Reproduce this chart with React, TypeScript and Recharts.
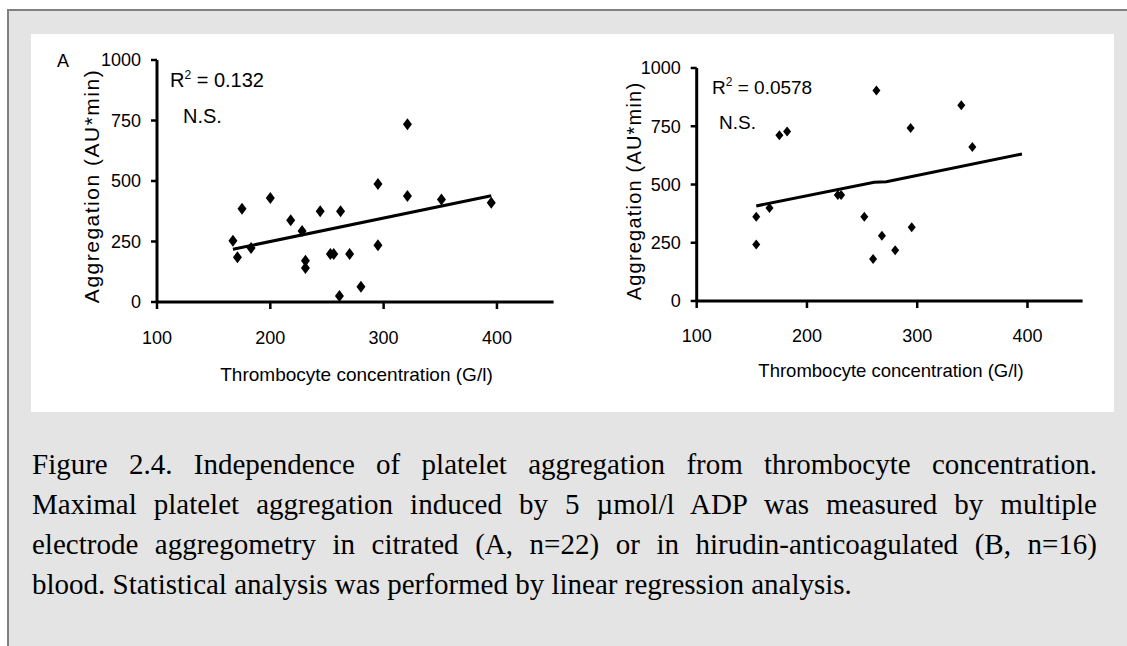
import React from "react";
import { ScatterChart, Scatter, XAxis, YAxis } from "recharts";

// ---------- data ----------
const xTicks = [100, 200, 300, 400];
const yTicks = [0, 250, 500, 750, 1000];

// Panel A (citrated, n=22)
const citratedPlatelets = [167, 171, 175, 183, 200, 218, 228, 231, 231, 244, 253, 256, 261, 262, 270, 280, 295, 295, 321, 321, 351, 395];
const citratedAggregation = [253, 185, 385, 223, 430, 338, 293, 170, 140, 375, 198, 198, 25, 375, 198, 63, 488, 235, 438, 735, 424, 410];
const citratedTrendX = [167, 395];
const citratedTrendY = [218, 439];

// Panel B (hirudin, n=16)
const hirudinPlatelets = [154, 154, 166, 175, 182, 228, 231, 252, 260, 263, 268, 280, 294, 295, 340, 350];
const hirudinAggregation = [362, 242, 399, 711, 727, 455, 455, 362, 180, 903, 280, 218, 742, 316, 840, 661];
const hirudinTrendX = [154, 261, 272, 395];
const hirudinTrendY = [408, 510, 512, 631];

const xLabel = "Thrombocyte concentration (G/l)";
const yLabel = "Aggregation (AU*min)";
const captionLines = [
  "Figure 2.4. Independence of platelet aggregation from thrombocyte concentration.",
  "Maximal platelet aggregation induced by 5 \u00b5mol/l ADP was measured by multiple",
  "electrode aggregometry in citrated (A, n=22) or in hirudin-anticoagulated (B, n=16)",
  "blood. Statistical analysis was performed by linear regression analysis.",
];

const toPoints = (xs: number[], ys: number[]) => xs.map((x, i) => ({ x, y: ys[i] }));

const SANS = '"Liberation Sans", Arial, sans-serif';
const SERIF = '"Liberation Serif", "Times New Roman", serif';

const diamond = (w: number, h: number) => (props: any) => {
  const { cx, cy } = props;
  if (cx == null || cy == null) return <g />;
  return (
    <path
      d={`M${cx},${cy - h / 2}L${cx + w / 2},${cy}L${cx},${cy + h / 2}L${cx - w / 2},${cy}Z`}
      fill="#000"
    />
  );
};
const noShape = () => <g />;

type PanelProps = {
  points: { x: number; y: number }[];
  trend: { x: number; y: number }[];
  width: number;
  height: number;
  margin: { top: number; right: number; bottom: number; left: number };
  mw: number;
  mh: number;
  xGap: number;
};

function Panel({ points, trend, width, height, margin, mw, mh, xGap }: PanelProps) {
  const axisLine = { stroke: "#000", strokeWidth: 3 };
  const tickLine = { stroke: "#000", strokeWidth: 2.5 };
  const tick = { fill: "#000", fontSize: 18, fontFamily: SANS };
  return (
    <ScatterChart width={width} height={height} margin={margin}>
      <XAxis
        type="number"
        dataKey="x"
        domain={[100, 450]}
        ticks={xTicks}
        interval={0}
        axisLine={axisLine}
        tickLine={tickLine}
        tickSize={7}
        tickMargin={xGap}
        tick={tick}
        height={40}
        allowDataOverflow
      />
      <YAxis
        type="number"
        dataKey="y"
        domain={[0, 1000]}
        ticks={yTicks}
        interval={0}
        axisLine={axisLine}
        tickLine={tickLine}
        tickSize={6}
        tickMargin={10}
        tick={tick}
        width={60}
        allowDataOverflow
      />
      <Scatter
        data={trend}
        shape={noShape}
        line={{ stroke: "#000", strokeWidth: 3 }}
        lineType="joint"
        isAnimationActive={false}
        legendType="none"
      />
      <Scatter data={points} shape={diamond(mw, mh)} isAnimationActive={false} legendType="none" />
    </ScatterChart>
  );
}

export default function App() {
  const pointsA = toPoints(citratedPlatelets, citratedAggregation);
  const trendA = toPoints(citratedTrendX, citratedTrendY);
  const pointsB = toPoints(hirudinPlatelets, hirudinAggregation);
  const trendB = toPoints(hirudinTrendX, hirudinTrendY);
  const captionBaselines = [474, 514, 554, 594];

  return (
    <div style={{ position: "relative", width: 1127, height: 646, background: "#fff", overflow: "hidden" }}>
      <style>{"body{margin:0}"}</style>
      {/* grey frame */}
      <div
        style={{
          position: "absolute",
          left: 7,
          top: 9,
          width: 1127 - 7,
          height: 646 - 9,
          background: "#e4e4e4",
          borderTop: "2px solid #808080",
          borderLeft: "2px solid #808080",
          boxSizing: "border-box",
        }}
      />
      {/* white chart panel */}
      <div style={{ position: "absolute", left: 31, top: 34, width: 1114 - 31, height: 412 - 34, background: "#fff" }} />

      {/* Panel A */}
      <div style={{ position: "absolute", left: 0, top: 0 }}>
        <Panel
          points={pointsA}
          trend={trendA}
          width={600}
          height={420}
          margin={{ top: 60, right: 46.4, bottom: 78, left: 97 }}
          mw={9}
          mh={12}
          xGap={22}
        />
      </div>
      {/* Panel B */}
      <div style={{ position: "absolute", left: 560, top: 0 }}>
        <Panel
          points={pointsB}
          trend={trendB}
          width={560}
          height={420}
          margin={{ top: 68, right: 37.4, bottom: 79, left: 76.7 }}
          mw={8}
          mh={10}
          xGap={21}
        />
      </div>

      {/* annotations */}
      <svg width={1127} height={646} style={{ position: "absolute", left: 0, top: 0, pointerEvents: "none" }}>
        <g fontFamily={SANS} fill="#000">
          <text x={57} y={67} fontSize={18}>A</text>
          <text x={170} y={87} fontSize={20}>
            R<tspan dy={-8} fontSize={12}>2</tspan>
            <tspan dy={8}> = 0.132</tspan>
          </text>
          <text x={183} y={123} fontSize={20}>N.S.</text>
          <text transform="translate(99,186) rotate(-90)" textAnchor="middle" fontSize={21} letterSpacing={1.5}>
            {yLabel}
          </text>
          <text x={356.5} y={381} textAnchor="middle" fontSize={19}>{xLabel}</text>

          <text x={712} y={94} fontSize={19}>
            R<tspan dy={-8} fontSize={12}>2</tspan>
            <tspan dy={8}> = 0.0578</tspan>
          </text>
          <text x={719} y={129} fontSize={19}>N.S.</text>
          <text transform="translate(641,191) rotate(-90)" textAnchor="middle" fontSize={20} letterSpacing={1.2}>
            {yLabel}
          </text>
          <text x={891} y={377} textAnchor="middle" fontSize={18.5}>{xLabel}</text>
        </g>
      </svg>

      {/* caption */}
      {captionLines.map((line, i) => (
        <div
          key={i}
          style={{
            position: "absolute",
            left: 32,
            top: captionBaselines[i] - 26,
            width: 1065,
            fontFamily: SERIF,
            fontSize: 29,
            lineHeight: "32px",
            color: "#000",
            whiteSpace: "nowrap",
            textAlign: i < 3 ? "justify" : "left",
            textAlignLast: i < 3 ? "justify" : "left",
          }}
        >
          {line}
        </div>
      ))}
    </div>
  );
}
